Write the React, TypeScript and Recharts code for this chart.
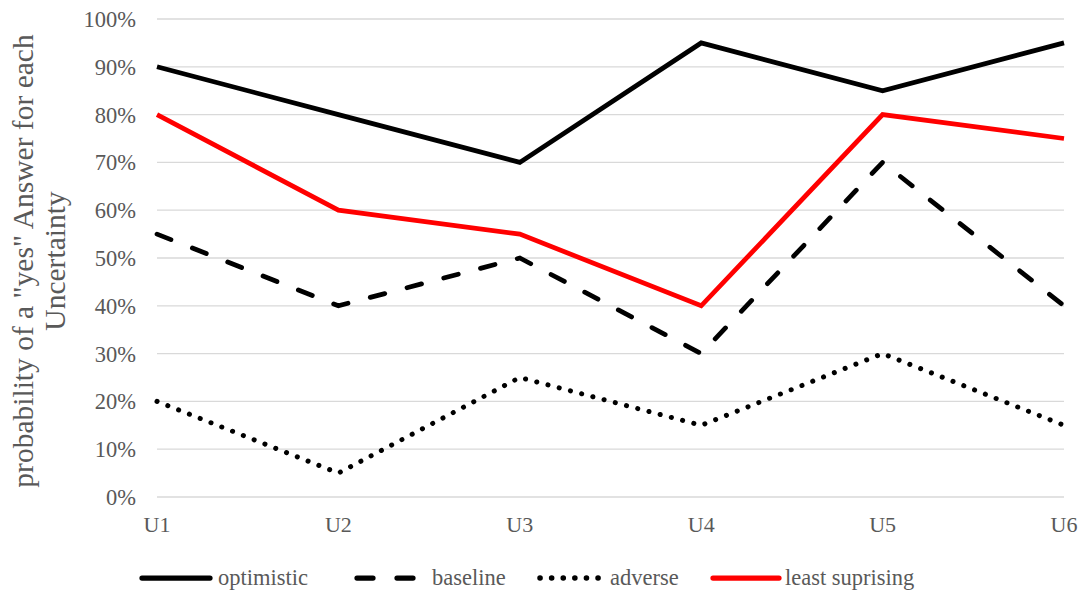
import React from 'react';
import { LineChart, Line, XAxis, YAxis, CartesianGrid } from 'recharts';

const categories = ['U1', 'U2', 'U3', 'U4', 'U5', 'U6'];
const optimistic = [90, 80, 70, 95, 85, 95];
const baseline = [55, 40, 50, 30, 70, 40];
const adverse = [20, 5, 25, 15, 30, 15];
const leastSurprising = [80, 60, 55, 40, 80, 75];
const yTicks = [0, 10, 20, 30, 40, 50, 60, 70, 80, 90, 100];

const FONT = '"Liberation Serif", "Times New Roman", serif';
const TEXT = '#595959';

const data = categories.map((name, i) => ({
  name,
  optimistic: optimistic[i],
  baseline: baseline[i],
  adverse: adverse[i],
  least: leastSurprising[i],
}));

type SeriesStyle = {
  key: string;
  label: string;
  color: string;
  dash?: string;
  cap: 'butt' | 'round';
  width: number;
};

const series: SeriesStyle[] = [
  { key: 'optimistic', label: 'optimistic', color: '#000000', cap: 'butt', width: 4.75 },
  { key: 'baseline', label: 'baseline', color: '#000000', dash: '15 23', cap: 'round', width: 4.75 },
  { key: 'adverse', label: 'adverse', color: '#000000', dash: '0.1 11.5', cap: 'round', width: 5 },
  { key: 'least', label: 'least suprising', color: '#ff0000', cap: 'butt', width: 4.75 },
];

// horizontal legend positions: sample start, sample end, text start
const legendSlots = [
  [142, 210, 218],
  [357, 422, 432],
  [540, 600, 610],
  [713, 779, 785],
];

const YTitle = () => (
  <text
    transform="translate(33, 261) rotate(-90)"
    textAnchor="middle"
    fill={TEXT}
    fontFamily={FONT}
    fontSize={29.5}
  >
    <tspan x={0} y={0}>probability of a "yes" Answer for each</tspan>
    <tspan x={0} y={32}>Uncertainty</tspan>
  </text>
);

export default function App() {
  return (
    <div style={{ position: 'absolute', left: 0, top: 0, width: 1085, height: 592, background: '#fff' }}>
      <LineChart
        width={1085}
        height={592}
        data={data}
        margin={{ top: 19, right: 21, bottom: 65, left: 0 }}
      >
        <CartesianGrid vertical={false} stroke="#d9d9d9" strokeWidth={1.3} />
        <XAxis
          dataKey="name"
          scale="point"
          padding={{ left: 0, right: 0 }}
          axisLine={false}
          tickLine={false}
          tickSize={0}
          tickMargin={19}
          height={30}
          tick={{ fill: TEXT, fontFamily: FONT, fontSize: 22 }}
        />
        <YAxis
          domain={[0, 100]}
          ticks={yTicks}
          interval={0}
          width={157}
          axisLine={false}
          tickLine={false}
          tickSize={0}
          tickMargin={21}
          tickFormatter={(v: number) => `${v}%`}
          tick={{ fill: TEXT, fontFamily: FONT, fontSize: 22.5 }}
          label={<YTitle />}
        />
        {series.map((s) => (
          <Line
            key={s.key}
            dataKey={s.key}
            type="linear"
            stroke={s.color}
            strokeWidth={s.width}
            strokeDasharray={s.dash}
            strokeLinecap={s.cap}
            dot={false}
            activeDot={false}
            isAnimationActive={false}
          />
        ))}
      </LineChart>
      <svg
        width={1085}
        height={40}
        style={{ position: 'absolute', left: 0, top: 558 }}
      >
        {series.map((s, i) => {
          const [x1, x2, tx] = legendSlots[i];
          return (
            <g key={s.key}>
              <line
                x1={x1}
                x2={x2}
                y1={20}
                y2={20}
                stroke={s.color}
                strokeWidth={s.width + 0.5}
                strokeDasharray={s.key === 'baseline' ? '16 24' : s.dash}
                strokeLinecap="round"
              />
              <text x={tx} y={27} fill={TEXT} fontFamily={FONT} fontSize={22.5}>
                {s.label}
              </text>
            </g>
          );
        })}
      </svg>
    </div>
  );
}
